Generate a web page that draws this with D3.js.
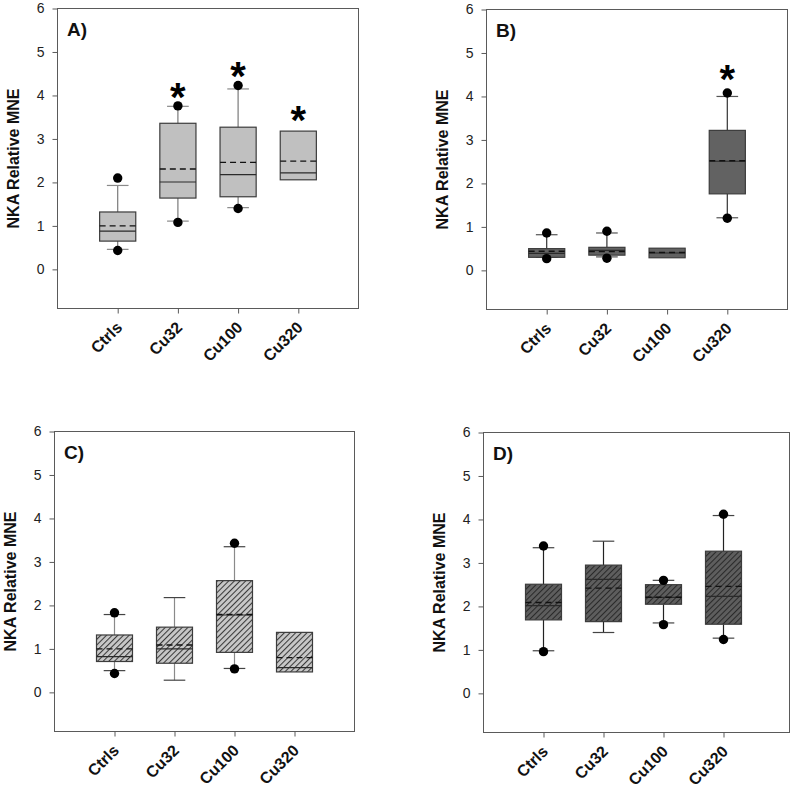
<!DOCTYPE html>
<html>
<head>
<meta charset="utf-8">
<script src="https://cdn.jsdelivr.net/npm/d3@7"></script>
<style>
  html, body { margin: 0; padding: 0; background: #fff; }
  svg { display: block; }
  text { font-family: "Liberation Sans", Arial, sans-serif; }
</style>
</head>
<body>
<svg id="chart" width="791" height="786"></svg>
<script>
// ---------- data ----------
const categories = ["Ctrls", "Cu32", "Cu100", "Cu320"];
const yTicks = [0, 1, 2, 3, 4, 5, 6];
const yTitle = "NKA Relative MNE";

// Panel A
const aQ1 = [0.65, 1.64, 1.67, 2.06];
const aMedian = [0.88, 2.01, 2.18, 2.22];
const aMean = [1.00, 2.31, 2.46, 2.49];
const aQ3 = [1.32, 3.36, 3.27, 3.18];
const aWhiskerLow = [0.46, 1.11, 1.42, null];
const aWhiskerHigh = [1.93, 3.75, 4.15, null];
const aOutlierLow = [0.435, 1.08, 1.40, null];
const aOutlierHigh = [2.10, 3.76, 4.23, null];
const aStars = [null, 4.15, 4.64, 3.61];

// Panel B
const bQ1 = [0.30, 0.35, 0.29, 1.76];
const bMedian = [0.39, 0.46, 0.40, 2.51];
const bMean = [0.44, 0.43, 0.41, 2.52];
const bQ3 = [0.50, 0.53, 0.51, 3.22];
const bWhiskerLow = [0.30, 0.31, null, 1.21];
const bWhiskerHigh = [0.82, 0.86, null, 4.00];
const bOutlierLow = [0.27, 0.28, null, 1.20];
const bOutlierHigh = [0.86, 0.90, null, 4.08];
const bStars = [null, null, null, 4.58];

// Panel C
const cQ1 = [0.71, 0.67, 0.92, 0.47];
const cMedian = [0.82, 1.00, 1.78, 0.57];
const cMean = [1.00, 1.09, 1.79, 0.80];
const cQ3 = [1.32, 1.50, 2.57, 1.38];
const cWhiskerLow = [0.50, 0.28, 0.55, null];
const cWhiskerHigh = [1.79, 2.18, 3.35, null];
const cOutlierLow = [0.435, null, 0.54, null];
const cOutlierHigh = [1.83, null, 3.43, null];
const cStars = [null, null, null, null];

// Panel D
const dQ1 = [1.69, 1.65, 2.05, 1.59];
const dMedian = [2.02, 2.62, 2.21, 2.23];
const dMean = [2.09, 2.42, 2.21, 2.46];
const dQ3 = [2.51, 2.95, 2.50, 3.27];
const dWhiskerLow = [0.98, 1.40, 1.62, 1.27];
const dWhiskerHigh = [3.35, 3.50, 2.60, 4.09];
const dOutlierLow = [0.96, null, 1.58, 1.24];
const dOutlierHigh = [3.39, null, 2.60, 4.12];
const dStars = [null, null, null, null];

// ---------- layout ----------
const svg = d3.select("#chart");
const defs = svg.append("defs");

function hatch(id, bg, lineColor) {
  const p = defs.append("pattern")
    .attr("id", id).attr("patternUnits", "userSpaceOnUse")
    .attr("width", 4).attr("height", 4)
    .attr("patternTransform", "rotate(45)");
  p.append("rect").attr("width", 4).attr("height", 4).attr("fill", bg);
  p.append("line").attr("x1", 0.5).attr("y1", 0).attr("x2", 0.5).attr("y2", 4)
    .attr("stroke", lineColor).attr("stroke-width", 1.1);
}
hatch("hatchLight", "#c8c8c8", "#3a3a3a");
hatch("hatchDark", "#5e5e5e", "#2a2a2a");

const panels = [
  { label: "A)", left: 57.5, right: 358.5, frameRight: 358.5, top: 8.5, bottom: 308.5,
    fill: "#c0c0c0", whisker: "#7a7a7a", cap: "#8a8a8a",
    q1: aQ1, med: aMedian, mean: aMean, q3: aQ3, wl: aWhiskerLow, wh: aWhiskerHigh,
    ol: aOutlierLow, oh: aOutlierHigh, stars: aStars },
  { label: "B)", left: 486.5, right: 787.5, frameRight: 787.5, top: 9.5, bottom: 309.5,
    fill: "#626262", whisker: "#333", cap: "#555",
    q1: bQ1, med: bMedian, mean: bMean, q3: bQ3, wl: bWhiskerLow, wh: bWhiskerHigh,
    ol: bOutlierLow, oh: bOutlierHigh, stars: bStars },
  { label: "C)", left: 54.5, right: 354.5, frameRight: 354.5, top: 431.5, bottom: 731.5,
    fill: "url(#hatchLight)", whisker: "#8a8a8a", cap: "#444",
    q1: cQ1, med: cMedian, mean: cMean, q3: cQ3, wl: cWhiskerLow, wh: cWhiskerHigh,
    ol: cOutlierLow, oh: cOutlierHigh, stars: cStars },
  { label: "D)", left: 483.5, right: 783.5, frameRight: 789.5, top: 432.5, bottom: 732.5,
    fill: "url(#hatchDark)", whisker: "#222", cap: "#444",
    q1: dQ1, med: dMedian, mean: dMean, q3: dQ3, wl: dWhiskerLow, wh: dWhiskerHigh,
    ol: dOutlierLow, oh: dOutlierHigh, stars: dStars }
];

const boxW = 0.6;   // in category units
const capW = 0.36;

panels.forEach(p => {
  const g = svg.append("g");
  const x = d3.scaleLinear().domain([0, 5]).range([p.left, p.right]);
  const y = d3.scaleLinear().domain([-0.9, 6]).range([p.bottom, p.top]);

  // frame
  g.append("rect")
    .attr("x", p.left).attr("y", p.top)
    .attr("width", p.frameRight - p.left).attr("height", p.bottom - p.top)
    .attr("fill", "none").attr("stroke", "#5a5a5a").attr("stroke-width", 1);

  // y axis
  const yAxis = g.append("g").attr("transform", `translate(${p.left},0)`)
    .call(d3.axisLeft(y).tickValues(yTicks).tickFormat(d3.format("d")).tickSize(5).tickPadding(8));
  yAxis.select(".domain").remove();
  yAxis.selectAll(".tick line").attr("stroke", "#5a5a5a");
  yAxis.selectAll(".tick text").attr("font-size", 14).attr("fill", "#222")
    .style("font-family", '"Liberation Sans", Arial, sans-serif');

  // x axis
  const xAxis = g.append("g").attr("transform", `translate(0,${p.bottom})`)
    .call(d3.axisBottom(x).tickValues([1, 2, 3, 4]).tickFormat((d) => categories[d - 1]).tickSize(5));
  xAxis.select(".domain").remove();
  xAxis.selectAll(".tick line").attr("stroke", "#5a5a5a");
  xAxis.selectAll(".tick text")
    .attr("font-size", 16).attr("font-weight", "bold").attr("fill", "#111")
    .style("font-family", '"Liberation Sans", Arial, sans-serif')
    .attr("text-anchor", "end")
    .attr("dy", null).attr("y", null)
    .attr("transform", "translate(5,20) rotate(-45)");

  // y title
  g.append("text")
    .attr("transform", `translate(${p.left - 39},${(p.top + p.bottom) / 2}) rotate(-90)`)
    .attr("text-anchor", "middle")
    .attr("font-size", 16).attr("font-weight", "bold").attr("fill", "#111")
    .text(yTitle);

  // panel label
  g.append("text")
    .attr("x", p.left + 9.5).attr("y", p.top + 27.5)
    .attr("font-size", 19).attr("font-weight", "bold").attr("fill", "#111")
    .text(p.label);

  const idx = categories.map((c, i) => i);

  // whiskers
  idx.filter(i => p.wh[i] != null).forEach(i => {
    g.append("line").attr("x1", x(i + 1)).attr("x2", x(i + 1))
      .attr("y1", y(p.q3[i])).attr("y2", y(p.wh[i]))
      .attr("stroke", p.whisker).attr("stroke-width", 1.2);
    g.append("line").attr("x1", x(i + 1 - capW / 2)).attr("x2", x(i + 1 + capW / 2))
      .attr("y1", y(p.wh[i])).attr("y2", y(p.wh[i]))
      .attr("stroke", p.cap).attr("stroke-width", 1.2);
  });
  idx.filter(i => p.wl[i] != null).forEach(i => {
    g.append("line").attr("x1", x(i + 1)).attr("x2", x(i + 1))
      .attr("y1", y(p.q1[i])).attr("y2", y(p.wl[i]))
      .attr("stroke", p.whisker).attr("stroke-width", 1.2);
    g.append("line").attr("x1", x(i + 1 - capW / 2)).attr("x2", x(i + 1 + capW / 2))
      .attr("y1", y(p.wl[i])).attr("y2", y(p.wl[i]))
      .attr("stroke", p.cap).attr("stroke-width", 1.2);
  });

  // boxes
  g.selectAll("rect.box").data(idx).enter().append("rect")
    .attr("class", "box")
    .attr("x", i => x(i + 1 - boxW / 2))
    .attr("width", i => x(i + 1 + boxW / 2) - x(i + 1 - boxW / 2))
    .attr("y", i => y(p.q3[i]))
    .attr("height", i => y(p.q1[i]) - y(p.q3[i]))
    .attr("fill", p.fill).attr("stroke", "#3c3c3c").attr("stroke-width", 1.2);

  // median (solid) and mean (dashed)
  g.selectAll("line.med").data(idx).enter().append("line")
    .attr("class", "med")
    .attr("x1", i => x(i + 1 - boxW / 2)).attr("x2", i => x(i + 1 + boxW / 2))
    .attr("y1", i => y(p.med[i])).attr("y2", i => y(p.med[i]))
    .attr("stroke", "#2a2a2a").attr("stroke-width", 1.2);
  g.selectAll("line.mean").data(idx).enter().append("line")
    .attr("class", "mean")
    .attr("x1", i => x(i + 1 - boxW / 2)).attr("x2", i => x(i + 1 + boxW / 2))
    .attr("y1", i => y(p.mean[i])).attr("y2", i => y(p.mean[i]))
    .attr("stroke", "#111").attr("stroke-width", 1.4).attr("stroke-dasharray", "6,4");

  // outliers
  const pts = [];
  idx.forEach(i => {
    if (p.ol[i] != null) pts.push({ i, v: p.ol[i] });
    if (p.oh[i] != null) pts.push({ i, v: p.oh[i] });
  });
  g.selectAll("circle.out").data(pts).enter().append("circle")
    .attr("class", "out")
    .attr("cx", d => x(d.i + 1)).attr("cy", d => y(d.v)).attr("r", 4.7)
    .attr("fill", "#000");

  // significance stars
  const st = idx.filter(i => p.stars[i] != null);
  g.selectAll("text.star").data(st).enter().append("text")
    .attr("class", "star")
    .attr("x", i => x(i + 1)).attr("y", i => y(p.stars[i]) + 22)
    .attr("text-anchor", "middle")
    .attr("font-size", 40).attr("font-weight", "bold").attr("fill", "#000")
    .text("*");
});
</script>
</body>
</html>
